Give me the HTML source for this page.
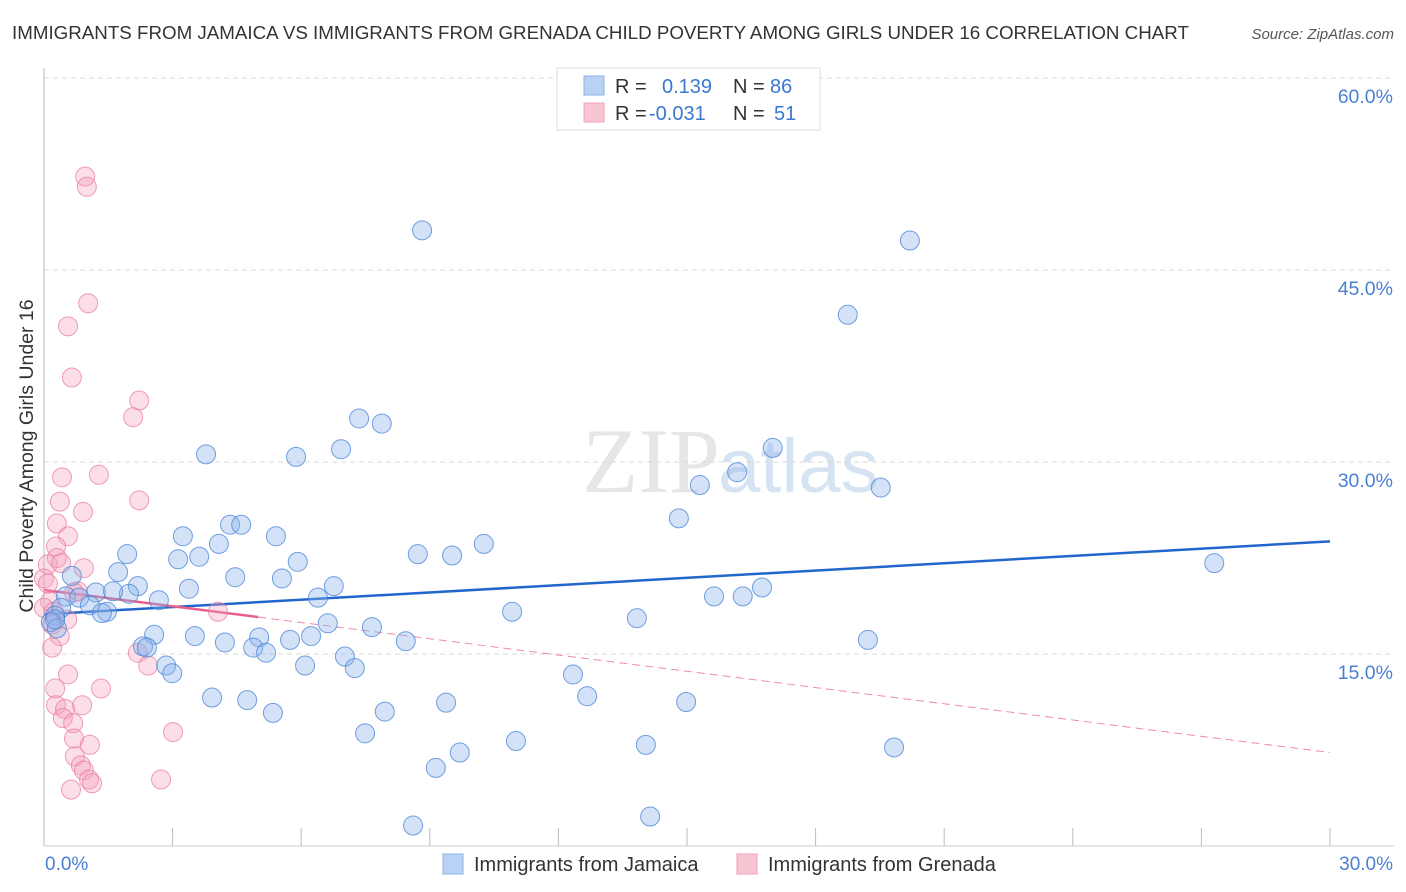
<!DOCTYPE html>
<html><head><meta charset="utf-8"><style>
body{margin:0;background:#fff;font-family:"Liberation Sans",sans-serif;}
svg{display:block}
</style></head><body>
<svg id="c" width="1406" height="892">
<text x="12" y="39" font-size="18.75" fill="#333">IMMIGRANTS FROM JAMAICA VS IMMIGRANTS FROM GRENADA CHILD POVERTY AMONG GIRLS UNDER 16 CORRELATION CHART</text>
<text x="1394" y="39" font-size="15" fill="#555" font-style="italic" text-anchor="end">Source: ZipAtlas.com</text>
<text x="720" y="492" font-size="92" fill="#e6e6e6" font-family="Liberation Serif,serif" text-anchor="end">ZIP</text>
<text x="718" y="492" font-size="76" fill="#d6e3f3">atlas</text>
<g id="grid"></g><g id="axes"></g><g id="lines"></g><g id="pts"></g>
<text transform="translate(33,456) rotate(-90)" font-size="19.5" fill="#333" text-anchor="middle">Child Poverty Among Girls Under 16</text>
<text x="45" y="870" font-size="19" fill="#4a7fd4">0.0%</text>
<text x="1393" y="870" font-size="19" fill="#4a7fd4" text-anchor="end">30.0%</text>
<g>
<rect x="557" y="68" width="263" height="62" fill="#fff" stroke="#ddd"/>
<rect x="584" y="76" width="20" height="19" fill="#b9d1f3" stroke="#8fb2e8"/>
<rect x="584" y="103" width="20" height="19" fill="#f8c5d3" stroke="#efa2b8"/>
<text x="615" y="93" font-size="20" fill="#333">R =</text><text x="662" y="93" font-size="20" fill="#3a78d2">0.139</text>
<text x="733" y="93" font-size="20" fill="#333">N =</text><text x="770" y="93" font-size="20" fill="#3a78d2">86</text>
<text x="615" y="120" font-size="20" fill="#333">R =</text><text x="649" y="120" font-size="20" fill="#3a78d2">-0.031</text>
<text x="733" y="120" font-size="20" fill="#333">N =</text><text x="774" y="120" font-size="20" fill="#3a78d2">51</text>
</g>
<g>
<rect x="443" y="854" width="20" height="20" fill="#b9d1f3" stroke="#8fb2e8"/>
<text x="474" y="871" font-size="20" fill="#333">Immigrants from Jamaica</text>
<rect x="737" y="854" width="20" height="20" fill="#f8c5d3" stroke="#efa2b8"/>
<text x="768" y="871" font-size="20" fill="#333">Immigrants from Grenada</text>
</g>
</svg>
<script>
const yTicks=[15,30,45,60];
const yTickLabels=["15.0%","30.0%","45.0%","60.0%"];
const blueX=[8.82,20.2,18.75,7.35,7.88,6.93,3.78,5.88,17.0,16.17,15.3,19.52,14.81,4.34,4.6,3.24,5.41,4.08,1.94,10.26,8.72,9.52,3.13,3.62,5.92,1.73,0.65,4.46,5.55,27.3,2.19,3.38,6.76,1.21,1.98,1.61,0.51,0.82,16.3,6.39,16.75,15.63,2.68,1.07,0.4,10.92,1.47,1.35,13.83,6.62,7.65,0.26,0.16,2.57,3.52,5.02,5.74,6.23,8.44,4.22,19.22,2.31,2.4,4.88,5.18,7.02,6.09,7.25,2.85,2.99,12.34,3.92,12.67,4.74,9.38,14.98,5.34,7.95,7.49,11.01,9.7,14.04,19.83,9.14,8.61,14.14,0.3,0.26];
const blueY=[48.1,47.3,41.5,33.4,33.0,31.0,30.6,30.4,31.1,29.2,28.2,28.0,25.6,25.1,25.1,24.2,24.2,23.6,22.8,23.6,22.8,22.7,22.4,22.6,22.2,21.4,21.1,21.0,20.9,22.1,20.3,20.1,20.3,19.8,19.7,19.9,19.5,19.4,19.5,19.4,20.2,19.5,19.2,18.8,18.6,18.3,18.3,18.2,17.8,17.4,17.1,18.0,17.5,16.5,16.4,16.3,16.1,16.4,16.0,15.9,16.1,15.6,15.5,15.5,15.1,14.8,14.1,13.9,14.1,13.5,13.4,11.6,11.7,11.4,11.2,11.25,10.4,10.5,8.8,8.2,7.3,7.9,7.7,6.1,1.6,2.3,17.0,17.7];
const pinkX=[0.96,1.0,1.03,0.56,0.65,2.22,2.08,0.42,1.28,2.22,0.37,0.91,0.3,0.56,0.28,0.3,0.09,0.4,0.93,0,0.79,0.7,0.14,0,0.23,4.06,0.54,0.19,0.37,0.19,2.19,2.43,0.56,0.26,1.33,0.28,0.49,0.89,0.44,0.68,3.01,0.7,1.07,0.72,0.86,0.93,2.73,1.05,1.12,0.63,0.09];
const pinkY=[52.3,51.5,42.4,40.6,36.6,34.8,33.5,28.8,29.0,27.0,26.9,26.1,25.2,24.2,23.4,22.5,22.0,22.1,21.7,20.9,19.9,19.8,19.1,18.6,18.3,18.3,17.7,17.3,16.4,15.5,15.1,14.1,13.4,12.3,12.3,11.0,10.7,11.0,10.0,9.6,8.9,8.4,7.9,7.0,6.3,5.9,5.2,5.2,4.9,4.4,20.5];
const blueTrend=[18.1,23.8];
const pinkTrend=[20.0,7.3];
const pinkSolidEnd=5;

const X=v=>44+v/30*1286, Y=v=>846-v*12.8;
const NS="http://www.w3.org/2000/svg";
function mk(tag,attrs,parent){const e=document.createElementNS(NS,tag);for(const k in attrs)e.setAttribute(k,attrs[k]);parent.appendChild(e);return e;}
const grid=document.getElementById('grid'),axes=document.getElementById('axes'),lines=document.getElementById('lines'),pts=document.getElementById('pts');
yTicks.forEach((t,i)=>{
  const l=mk('line',{x1:44,x2:1394,y1:Y(t),y2:Y(t),stroke:'#d8d8d8','stroke-dasharray':'5,4'},grid);
  
  
  const tx=mk('text',{x:1393,y:Y(t)+25,'font-size':19.5,fill:'#4a7fd4','text-anchor':'end'},grid);
  tx.textContent=yTickLabels[i];
  
  
});
const ya=mk('line',{x1:44,x2:44,y1:68,y2:846,stroke:'#bbb'},axes);


const xa=mk('line',{x1:44,x2:1394,y1:846,y2:846,stroke:'#ccc'},axes);


for(let i=1;i<=10;i++){
  const t=mk('line',{x1:X(i*3),x2:X(i*3),y1:828,y2:846,stroke:'#bbb'},axes);
  
  
}
function pt(x,y,fill,stroke,name){
  const c=mk('circle',{cx:X(x),cy:Y(y),r:9.5,fill:fill,stroke:stroke,'stroke-width':1},pts);
  
  
}
pinkX.forEach((x,i)=>pt(x,pinkY[i],'rgba(243,160,185,0.35)','rgba(232,120,155,0.7)','grenada-point'));
blueX.forEach((x,i)=>pt(x,blueY[i],'rgba(140,180,235,0.38)','rgba(70,130,215,0.75)','jamaica-point'));
const bl=mk('line',{x1:X(0),y1:Y(blueTrend[0]),x2:X(30),y2:Y(blueTrend[1]),stroke:'#2266cc','stroke-width':2.5},lines);


const py=x=>pinkTrend[0]+(pinkTrend[1]-pinkTrend[0])*x/30;
const ps=mk('line',{x1:X(0),y1:Y(py(0)),x2:X(pinkSolidEnd),y2:Y(py(pinkSolidEnd)),stroke:'#e8608a','stroke-width':2.5},lines);


const pd=mk('line',{x1:X(pinkSolidEnd),y1:Y(py(pinkSolidEnd)),x2:X(30),y2:Y(py(30)),stroke:'#f08aa8','stroke-width':1,'stroke-dasharray':'8,5'},lines);


</script>
</body></html>
